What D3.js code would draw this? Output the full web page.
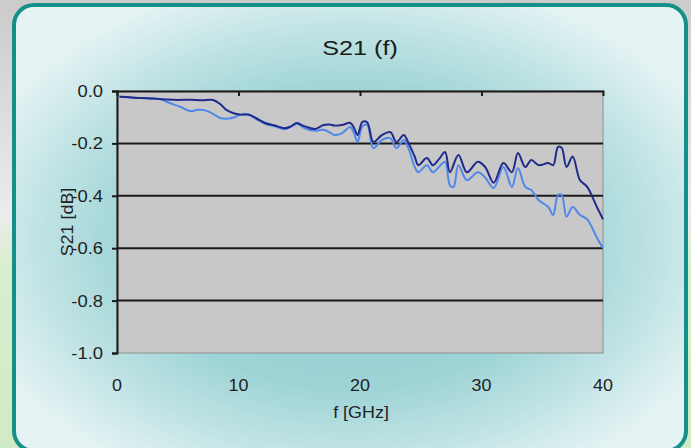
<!DOCTYPE html>
<html><head><meta charset="utf-8">
<script src="https://cdn.jsdelivr.net/npm/d3@7"></script>
<style>html,body{margin:0;padding:0;background:#fff;overflow:hidden}svg{display:block}</style>
</head><body>
<script>
const title = "S21 (f)";
const xLabel = "f [GHz]";
const yLabel = "S21 [dB]";
const xTicks = [0, 10, 20, 30, 40];
const yTicks = [0, -0.2, -0.4, -0.6, -0.8, -1.0];
const yTickLabels = ["0.0", "-0.2", "-0.4", "-0.6", "-0.8", "-1.0"];

const freqDark = [0.2,1,2,3,4,5,6,7,7.9,8.5,9,9.6,10.1,10.8,11.5,12.2,13,13.8,14.3,14.8,15.2,15.6,16.3,17,17.5,17.9,18.5,19.2,19.5,19.8,20.2,20.6,21.1,21.8,22.5,23,23.6,24,24.5,24.8,25.5,26,26.5,27,27.4,28.1,28.8,29.7,30.3,31,31.8,32.5,33,33.6,34.1,34.7,35.5,35.9,36.3,36.6,37,37.5,38.1,38.7,39.5,40];
const s21Dark = [-0.022,-0.024,-0.027,-0.029,-0.032,-0.034,-0.033,-0.035,-0.034,-0.05,-0.072,-0.085,-0.09,-0.09,-0.105,-0.122,-0.132,-0.142,-0.135,-0.122,-0.13,-0.137,-0.145,-0.13,-0.128,-0.132,-0.13,-0.122,-0.14,-0.168,-0.118,-0.12,-0.195,-0.168,-0.157,-0.195,-0.168,-0.2,-0.25,-0.283,-0.256,-0.283,-0.26,-0.233,-0.31,-0.244,-0.31,-0.27,-0.29,-0.35,-0.275,-0.31,-0.237,-0.29,-0.263,-0.283,-0.275,-0.283,-0.213,-0.217,-0.29,-0.25,-0.34,-0.366,-0.443,-0.49];

const freqLight = [0.2,1,2,3,3.5,4.3,5.2,6,6.7,7.4,8,8.5,9.2,9.7,10.1,10.8,11.5,12.2,13,13.8,14.3,14.8,15.2,15.6,16.3,17,17.5,17.9,18.5,19.2,19.5,19.8,20.2,20.6,21.1,21.8,22.5,23,23.6,24,24.5,24.8,25.5,26,26.5,27,27.4,27.7,28.1,28.8,29.7,30.3,31,31.8,32.5,33,33.6,34.1,34.7,35.5,35.9,36.3,36.6,37,37.5,38.1,38.7,39.5,40];
const s21Light = [-0.022,-0.024,-0.027,-0.029,-0.031,-0.045,-0.06,-0.076,-0.072,-0.076,-0.09,-0.103,-0.105,-0.1,-0.092,-0.09,-0.108,-0.125,-0.135,-0.145,-0.137,-0.125,-0.135,-0.145,-0.152,-0.148,-0.158,-0.168,-0.162,-0.137,-0.16,-0.195,-0.135,-0.13,-0.218,-0.187,-0.18,-0.218,-0.187,-0.22,-0.29,-0.31,-0.283,-0.31,-0.29,-0.27,-0.36,-0.366,-0.283,-0.34,-0.31,-0.33,-0.37,-0.29,-0.366,-0.294,-0.366,-0.378,-0.416,-0.443,-0.473,-0.397,-0.397,-0.48,-0.443,-0.473,-0.49,-0.56,-0.6];

const W = 691, H = 448;
const FONT = "Liberation Sans, Arial, sans-serif";
const svg = d3.select("body").append("svg").attr("width", W).attr("height", H);
const defs = svg.append("defs");

const lg = defs.append("linearGradient").attr("id","strip").attr("x1",0).attr("y1",0).attr("x2",0).attr("y2",1);
lg.append("stop").attr("offset","0").attr("stop-color","#cbcbcb");
lg.append("stop").attr("offset","0.48").attr("stop-color","#ececec");
lg.append("stop").attr("offset","0.6").attr("stop-color","#d8eecd");
lg.append("stop").attr("offset","1").attr("stop-color","#d0ebc4");
svg.append("rect").attr("x",0).attr("y",0).attr("width",W).attr("height",H).attr("fill","url(#strip)");

const rg = defs.append("radialGradient").attr("id","panel").attr("gradientUnits","userSpaceOnUse")
  .attr("cx",350).attr("cy",240).attr("r",400)
  .attr("gradientTransform","translate(350,240) scale(1,0.68) translate(-350,-240)");
rg.append("stop").attr("offset","0").attr("stop-color","#88c8cb");
rg.append("stop").attr("offset","0.55").attr("stop-color","#9fd4d6");
rg.append("stop").attr("offset","0.8").attr("stop-color","#c4e5e6");
rg.append("stop").attr("offset","1").attr("stop-color","#e6f3f4");
svg.append("rect").attr("x",14).attr("y",5).attr("width",672).attr("height",446).attr("rx",20)
  .attr("fill","url(#panel)").attr("stroke","#14908b").attr("stroke-width",4);

const m = {left:117, right:603, top:91, bottom:353};
const x = d3.scaleLinear().domain([0,40]).range([m.left, m.right]);
const y = d3.scaleLinear().domain([-1,0]).range([m.bottom, m.top]);

svg.append("rect").attr("x",m.left).attr("y",m.top).attr("width",m.right-m.left).attr("height",m.bottom-m.top)
  .attr("fill","#c8c8c8").attr("stroke","#8f8f8f").attr("stroke-width",1);

svg.append("g").selectAll("line").data(yTicks.filter(d => d < 0 && d > -1)).join("line")
  .attr("x1",m.left).attr("x2",m.right).attr("y1",d=>y(d)).attr("y2",d=>y(d))
  .attr("stroke","#1a1a1a").attr("stroke-width",2);

const yAxis = svg.append("g").attr("transform",`translate(${m.left},0)`)
  .call(d3.axisLeft(y).tickValues(yTicks).tickFormat("").tickSize(5));
yAxis.select(".domain").attr("stroke","#1a1a1a").attr("stroke-width",2);
yAxis.selectAll(".tick line").attr("stroke","#1a1a1a").attr("stroke-width",2);

svg.append("g").selectAll("text").data(yTicks).join("text")
  .attr("transform",(d)=>`translate(103,${y(d)+6}) scale(1.15,1)`)
  .attr("text-anchor","end").attr("font-family",FONT).attr("font-size",16).attr("fill","#222")
  .text((d,i)=>yTickLabels[i]);

const xAxisTop = svg.append("g").attr("transform",`translate(0,${m.top})`)
  .call(d3.axisBottom(x).tickValues(xTicks.slice(1,-1)).tickSize(5).tickFormat(""));
xAxisTop.select(".domain").attr("stroke","#1a1a1a").attr("stroke-width",2);
xAxisTop.selectAll(".tick line").attr("stroke","#1a1a1a").attr("stroke-width",2);

svg.append("g").selectAll("text").data(xTicks).join("text")
  .attr("transform",d=>`translate(${x(d)},391) scale(1.12,1)`).attr("text-anchor","middle")
  .attr("font-family",FONT).attr("font-size",16).attr("fill","#222")
  .text(d=>d);

const line = d3.line().x(d=>x(d[0])).y(d=>y(d[1])).curve(d3.curveCatmullRom.alpha(0.5));
svg.append("path").datum(d3.zip(freqLight, s21Light)).attr("d",line)
  .attr("fill","none").attr("stroke","#5088ea").attr("stroke-width",2);
svg.append("path").datum(d3.zip(freqDark, s21Dark)).attr("d",line)
  .attr("fill","none").attr("stroke","#1f2a8a").attr("stroke-width",2);

svg.append("text").attr("transform","translate(360,55) scale(1.2,1)").attr("text-anchor","middle")
  .attr("font-family",FONT).attr("font-size",21).attr("fill","#1a1a1a").text(title);
svg.append("text").attr("transform","translate(361,418) scale(1.12,1)").attr("text-anchor","middle")
  .attr("font-family",FONT).attr("font-size",16).attr("fill","#222").text(xLabel);
svg.append("text").attr("transform","translate(73,222) rotate(-90) scale(1.12,1)").attr("text-anchor","middle")
  .attr("font-family",FONT).attr("font-size",16).attr("fill","#222").text(yLabel);
</script>
</body></html>
